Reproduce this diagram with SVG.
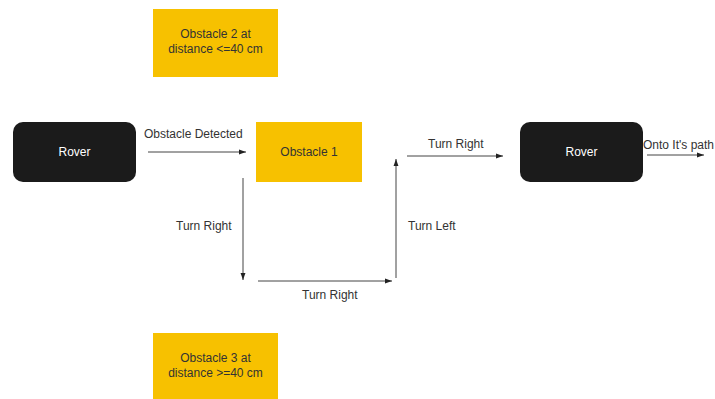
<svg xmlns="http://www.w3.org/2000/svg" width="715" height="399" viewBox="0 0 715 399">
<defs>
<marker id="ah" viewBox="0 0 10 10" refX="10" refY="5" markerWidth="7" markerHeight="7" orient="auto" markerUnits="userSpaceOnUse">
<path d="M0,1.5 L10,5 L0,8.5 z" fill="#222"/>
</marker>
<style>
text{font-family:"Liberation Sans",Arial,sans-serif;font-size:12px;fill:#333}
.rover{fill:#1b1b1b}
.obs{fill:#f7c100}
.rt{fill:#fff;text-anchor:middle}
.ot{text-anchor:middle}
.ln{stroke:#444;stroke-width:1;fill:none;marker-end:url(#ah)}
.lbl{}
</style>
</defs>
<rect width="715" height="399" fill="#fff"/>
<g id="rover1"><rect class="rover" x="13" y="122" width="123" height="60" rx="10"/><text class="rt" x="74.5" y="156">Rover</text></g>
<g id="obstacle1"><rect class="obs" x="256" y="122" width="106" height="60"/><text class="ot" x="309" y="156">Obstacle 1</text></g>
<g id="obstacle2"><rect class="obs" x="153" y="9" width="125" height="68"/><text class="ot" x="215.5" y="38">Obstacle 2 at</text><text class="ot" x="215.5" y="53">distance &lt;=40 cm</text></g>
<g id="obstacle3"><rect class="obs" x="153" y="333" width="125" height="66"/><text class="ot" x="215.5" y="362">Obstacle 3 at</text><text class="ot" x="215.5" y="377">distance &gt;=40 cm</text></g>
<g id="rover2"><rect class="rover" x="520" y="122" width="123" height="60" rx="10"/><text class="rt" x="581.5" y="156">Rover</text></g>
<g id="connectors">
<line class="ln" x1="148" y1="152" x2="246" y2="152"/>
<text x="144" y="138">Obstacle Detected</text>
<line class="ln" x1="243" y1="178" x2="243" y2="280"/>
<text x="176" y="230">Turn Right</text>
<line class="ln" x1="258" y1="281" x2="392" y2="281"/>
<text x="302" y="299">Turn Right</text>
<line class="ln" x1="396" y1="278" x2="396" y2="159"/>
<text x="408" y="230">Turn Left</text>
<line class="ln" x1="407" y1="156" x2="503" y2="156"/>
<text x="428" y="148">Turn Right</text>
<line class="ln" x1="647" y1="155" x2="704" y2="155"/>
<text x="643" y="149">Onto It's path</text>
</g>
</svg>
